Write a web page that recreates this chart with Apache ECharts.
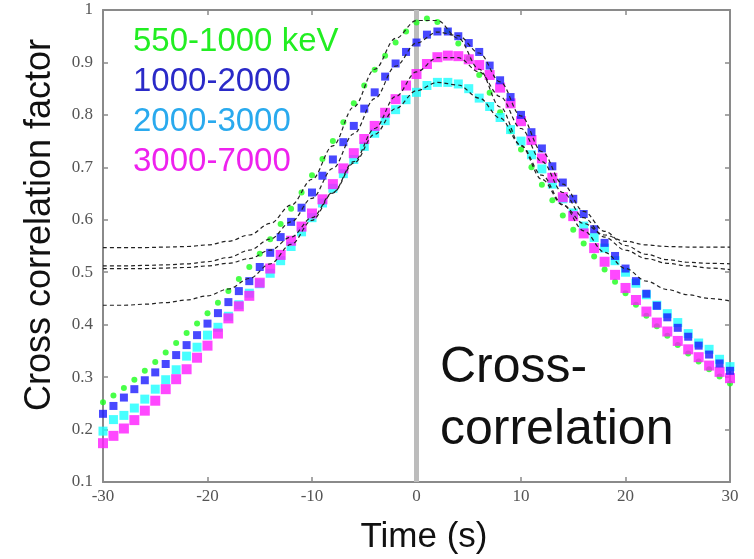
<!DOCTYPE html>
<html>
<head>
<meta charset="utf-8">
<script src="https://cdn.jsdelivr.net/npm/echarts@6/dist/echarts.min.js"></script>
<style>
html,body{margin:0;padding:0;background:#fff;}
#chart{width:754px;height:559px;}
</style>
</head>
<body>
<div id="chart"></div>
<script>
// Time lags (s)
var times = [-30,-29,-28,-27,-26,-25,-24,-23,-22,-21,-20,-19,-18,-17,-16,-15,-14,-13,-12,-11,-10,-9,-8,-7,-6,-5,-4,-3,-2,-1,0,1,2,3,4,5,6,7,8,9,10,11,12,13,14,15,16,17,18,19,20,21,22,23,24,25,26,27,28,29,30];

// Cross-correlation factor per energy band
var band550_1000 = [0.252,0.265,0.279,0.295,0.312,0.329,0.347,0.365,0.384,0.402,0.422,0.442,0.464,0.487,0.510,0.535,0.563,0.592,0.621,0.652,0.685,0.716,0.750,0.786,0.822,0.856,0.886,0.913,0.938,0.959,0.976,0.984,0.977,0.960,0.936,0.908,0.876,0.842,0.805,0.769,0.734,0.700,0.667,0.637,0.608,0.581,0.555,0.530,0.505,0.482,0.460,0.438,0.417,0.397,0.379,0.361,0.345,0.330,0.315,0.301,0.288];
var band1000_2000 = [0.230,0.245,0.261,0.277,0.294,0.309,0.325,0.342,0.361,0.380,0.402,0.422,0.443,0.464,0.483,0.510,0.537,0.567,0.596,0.623,0.652,0.684,0.715,0.748,0.779,0.812,0.843,0.873,0.898,0.920,0.938,0.953,0.959,0.959,0.950,0.937,0.920,0.894,0.866,0.834,0.800,0.767,0.736,0.702,0.671,0.640,0.611,0.582,0.556,0.531,0.507,0.483,0.459,0.436,0.414,0.394,0.377,0.360,0.343,0.326,0.312];
var band2000_3000 = [0.197,0.219,0.227,0.241,0.258,0.277,0.295,0.314,0.340,0.357,0.380,0.395,0.416,0.438,0.460,0.478,0.498,0.522,0.549,0.577,0.604,0.632,0.660,0.688,0.715,0.740,0.765,0.789,0.810,0.829,0.843,0.856,0.862,0.862,0.859,0.850,0.832,0.816,0.795,0.772,0.750,0.724,0.697,0.668,0.640,0.613,0.588,0.566,0.546,0.522,0.500,0.479,0.457,0.437,0.421,0.404,0.383,0.365,0.353,0.334,0.320];
var band3000_7000 = [0.174,0.188,0.202,0.218,0.236,0.255,0.277,0.296,0.315,0.337,0.360,0.383,0.412,0.435,0.455,0.480,0.507,0.533,0.560,0.587,0.612,0.639,0.668,0.698,0.727,0.754,0.779,0.804,0.830,0.856,0.878,0.897,0.910,0.913,0.912,0.906,0.895,0.876,0.852,0.822,0.788,0.752,0.717,0.680,0.643,0.607,0.574,0.546,0.520,0.495,0.470,0.447,0.425,0.404,0.387,0.369,0.353,0.338,0.322,0.310,0.298];

// Fitted curves (dashed), sampled every 2 s
var fitTimes = [-30,-28,-26,-24,-22,-20,-18,-16,-14,-12,-10,-8,-6,-4,-2,0,2,4,6,8,10,12,14,16,18,20,22,24,26,28,30];
var fit550_1000 = [0.547,0.547,0.547,0.548,0.549,0.552,0.559,0.571,0.593,0.628,0.677,0.741,0.815,0.887,0.946,0.980,0.980,0.946,0.887,0.815,0.741,0.677,0.628,0.593,0.571,0.559,0.552,0.549,0.548,0.548,0.548];
var fit1000_2000 = [0.512,0.512,0.513,0.514,0.516,0.520,0.528,0.542,0.563,0.596,0.641,0.698,0.764,0.831,0.893,0.937,0.958,0.951,0.918,0.863,0.798,0.730,0.668,0.616,0.578,0.551,0.534,0.524,0.519,0.517,0.516];
var fit2000_3000 = [0.437,0.437,0.439,0.442,0.447,0.455,0.468,0.488,0.516,0.553,0.599,0.651,0.708,0.763,0.812,0.846,0.862,0.857,0.832,0.794,0.742,0.685,0.629,0.579,0.538,0.507,0.483,0.467,0.457,0.450,0.445];
var fit3000_7000 = [0.507,0.507,0.507,0.508,0.509,0.512,0.517,0.526,0.542,0.567,0.604,0.652,0.711,0.774,0.835,0.882,0.909,0.909,0.882,0.835,0.774,0.711,0.652,0.604,0.567,0.542,0.526,0.517,0.512,0.508,0.505];

// Vertical reference line at zero lag
var zeroLineX = [0, 0];
var zeroLineY = [0.1, 1];

var bandNames = ['550-1000 keV','1000-2000','2000-3000','3000-7000'];

function pairs(xs, ys){ return xs.map(function(x,i){ return [x, ys[i]]; }); }

var chart = echarts.init(document.getElementById('chart'), null, {renderer:'canvas'});

var axisGray = '#8a8a8a';
var tickFont = {fontFamily:'Liberation Serif', fontSize:17, color:'#555'};

function fitSeries(name, ys){
  return {
    name: name, type:'line', data: pairs(fitTimes, ys),
    smooth: 0.35, smoothMonotone: 'x', symbol:'none', silent:true, z:10,
    lineStyle:{color:'#222', width:1.2, type:[4,3]}
  };
}

var option = {
  animation:false,
  backgroundColor:'#fff',
  grid:{left:103, right:24, top:10, bottom:77},
  legend:{
    orient:'vertical', left:123, top:20, icon:'none', itemWidth:0, itemHeight:33, itemGap:7,
    selectedMode:false,
    textStyle:{fontFamily:'Liberation Sans', fontSize:33},
    data:[
      {name:bandNames[0], textStyle:{color:'#22ee22'}},
      {name:bandNames[1], textStyle:{color:'#2a2ac8'}},
      {name:bandNames[2], textStyle:{color:'#2aaaee'}},
      {name:bandNames[3], textStyle:{color:'#ee22ee'}}
    ]
  },
  xAxis:[{
    type:'value', min:-30, max:30, interval:10,
    axisLine:{show:true, onZero:false, lineStyle:{color:axisGray, width:2}},
    axisTick:{show:true, inside:true, length:5, lineStyle:{color:axisGray, width:1.5}},
    axisLabel:Object.assign({margin:6}, tickFont),
    splitLine:{show:false}
  },{
    type:'value', min:-30, max:30, interval:10, position:'top',
    axisLine:{show:true, onZero:false, lineStyle:{color:axisGray, width:2}},
    axisTick:{show:true, inside:true, length:5, lineStyle:{color:axisGray, width:1.5}},
    axisLabel:{show:false}, splitLine:{show:false}
  }],
  yAxis:[{
    type:'value', min:0.1, max:1, interval:0.1,
    axisLine:{show:true, onZero:false, lineStyle:{color:axisGray, width:2}},
    axisTick:{show:true, inside:true, length:5, lineStyle:{color:axisGray, width:1.5}},
    axisLabel:Object.assign({margin:10, formatter:function(v){ return String(Math.round(v*10)/10); }}, tickFont),
    splitLine:{show:false}
  },{
    type:'value', min:0.1, max:1, interval:0.1, position:'right',
    axisLine:{show:true, onZero:false, lineStyle:{color:axisGray, width:2}},
    axisTick:{show:true, inside:true, length:5, lineStyle:{color:axisGray, width:1.5}},
    axisLabel:{show:false}, splitLine:{show:false}
  }],
  graphic:[
    {type:'text', x:40, y:225, rotation:Math.PI/2, z:100,
     style:{text:'Cross correlation factor', font:'36px "Liberation Sans"', fill:'#111', align:'center', verticalAlign:'middle'}},
    {type:'text', x:424, y:537, z:100,
     style:{text:'Time (s)', font:'35px "Liberation Sans"', fill:'#111', align:'center', verticalAlign:'middle'}},
    {type:'text', left:440, top:337, z:100,
     style:{text:'Cross-\ncorrelation', font:'50px "Liberation Sans"', lineHeight:62, fill:'#111'}}
  ],
  series:[
    {name:'zero lag', type:'line', data:pairs(zeroLineX, zeroLineY), symbol:'none', silent:true, z:1,
     lineStyle:{color:'#bcbcbc', width:5}},
    {name:bandNames[0], type:'scatter', data:pairs(times, band550_1000), symbol:'circle', symbolSize:6, z:3,
     itemStyle:{color:'#1aff1a'}},
    {name:bandNames[2], type:'scatter', data:pairs(times, band2000_3000), symbol:'rect', symbolSize:9, z:4,
     itemStyle:{color:'#1affff'}},
    {name:bandNames[3], type:'scatter', data:pairs(times, band3000_7000), symbol:'rect', symbolSize:10, z:5,
     itemStyle:{color:'#ff1aff'}},
    {name:bandNames[1], type:'scatter', data:pairs(times, band1000_2000), symbol:'rect', symbolSize:8, z:6,
     itemStyle:{color:'#1a1aff'}},
    fitSeries('fit 550-1000', fit550_1000),
    fitSeries('fit 1000-2000', fit1000_2000),
    fitSeries('fit 2000-3000', fit2000_3000),
    fitSeries('fit 3000-7000', fit3000_7000)
  ]
};
chart.setOption(option);
</script>
</body>
</html>
